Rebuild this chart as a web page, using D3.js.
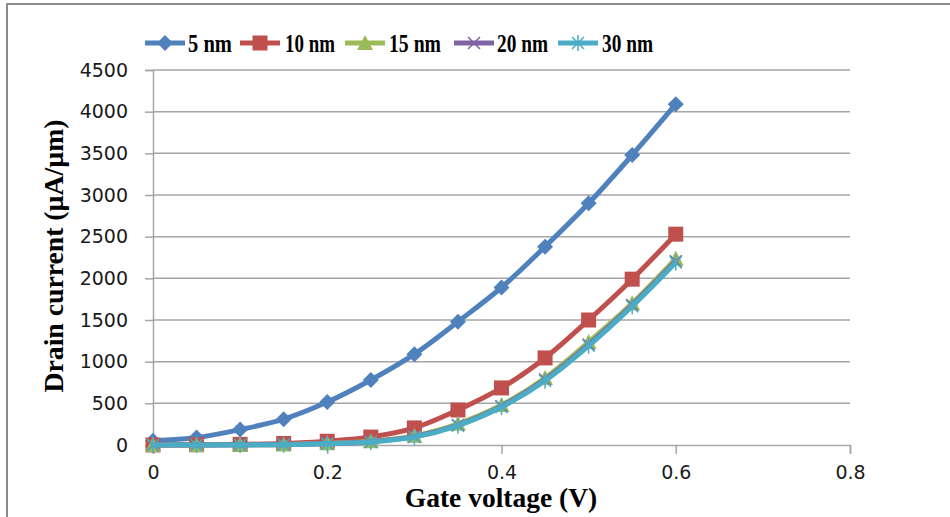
<!DOCTYPE html>
<html>
<head>
<meta charset="utf-8">
<script src="https://cdn.jsdelivr.net/npm/d3@7"></script>
<style>
  html, body { margin: 0; padding: 0; background: #fff; }
  svg { display: block; }
</style>
</head>
<body>
<svg id="chart" width="950" height="517"></svg>
<script>
// Gate voltage sweep (V)
const gateVoltage = [0, 0.05, 0.1, 0.15, 0.2, 0.25, 0.3, 0.35, 0.4, 0.45, 0.5, 0.55, 0.6];

// Drain current (µA/µm) per channel thickness
const series5nm  = [50, 90, 185, 310, 515, 780, 1090, 1480, 1890, 2380, 2900, 3480, 4090];
const series10nm = [0, 3, 8, 18, 45, 95, 205, 420, 685, 1045, 1500, 1990, 2530];
const series15nm = [0, 0, 2, 6, 20, 45, 110, 255, 480, 805, 1235, 1700, 2235];
const series20nm = [0, 0, 2, 5, 18, 40, 100, 240, 465, 785, 1205, 1680, 2205];
const series30nm = [0, 0, 1, 4, 15, 36, 95, 232, 455, 772, 1190, 1665, 2190];

const seriesNames = ["5 nm", "10 nm", "15 nm", "20 nm", "30 nm"];
const seriesValues = [series5nm, series10nm, series15nm, series20nm, series30nm];
const seriesColors = ["#4F81BD", "#C0504D", "#9BBB59", "#8064A2", "#4BACC6"];
const seriesMarkers = ["diamond", "square", "triangle", "x", "star"];

const xTicks = [0, 0.2, 0.4, 0.6, 0.8];
const yTicks = [0, 500, 1000, 1500, 2000, 2500, 3000, 3500, 4000, 4500];

const svg = d3.select("#chart");

// outer chart frame
svg.append("rect")
  .attr("x", 7).attr("y", 4).attr("width", 980).attr("height", 560)
  .attr("fill", "none").attr("stroke", "#8c8c8c").attr("stroke-width", 2);

const x = d3.scaleLinear().domain([0, 0.8]).range([153, 850]);
const y = d3.scaleLinear().domain([0, 4500]).range([445, 70]);

const gridColor = "#a6a6a6";
const tickFont = "'DejaVu Sans', sans-serif";
const titleFont = "'Liberation Serif', 'Times New Roman', serif";

// horizontal gridlines
svg.append("g").selectAll("line")
  .data(yTicks.filter(d => d > 0))
  .join("line")
  .attr("x1", x(0)).attr("x2", x(0.8))
  .attr("y1", d => y(d)).attr("y2", d => y(d))
  .attr("stroke", gridColor).attr("stroke-width", 1.5);

// y axis
const yAxis = svg.append("g")
  .attr("transform", `translate(${x(0)},0)`)
  .call(d3.axisLeft(y).tickValues(yTicks).tickSize(8).tickPadding(17).tickFormat(d3.format("d")));
yAxis.select(".domain").attr("stroke", gridColor).attr("stroke-width", 1.5);
yAxis.selectAll(".tick line").attr("stroke", gridColor).attr("stroke-width", 1.5);
yAxis.selectAll("text").attr("font-family", tickFont).attr("font-size", 19).attr("fill", "#1a1a1a");

// x axis
const xAxis = svg.append("g")
  .attr("transform", `translate(0,${y(0)})`)
  .call(d3.axisBottom(x).tickValues(xTicks).tickSize(9).tickPadding(12)
    .tickFormat(d => d === 0 ? "0" : d3.format(".1f")(d)));
xAxis.select(".domain").attr("stroke", gridColor).attr("stroke-width", 1.5);
xAxis.selectAll(".tick line").attr("stroke", gridColor).attr("stroke-width", 1.5);
xAxis.selectAll("text").attr("font-family", tickFont).attr("font-size", 19).attr("fill", "#1a1a1a");

// axis titles
svg.append("text")
  .attr("x", 501).attr("y", 507)
  .attr("text-anchor", "middle")
  .attr("font-family", titleFont).attr("font-weight", "bold").attr("font-size", 27.5)
  .attr("fill", "#000")
  .text("Gate voltage (V)");

svg.append("text")
  .attr("transform", "translate(63,256) rotate(-90)")
  .attr("text-anchor", "middle")
  .attr("font-family", titleFont).attr("font-weight", "bold").attr("font-size", 27)
  .attr("textLength", 273).attr("lengthAdjust", "spacingAndGlyphs")
  .attr("fill", "#000")
  .text("Drain current (µA/µm)");

// marker drawing
function drawMarker(g, type, color, cx, cy) {
  const s = 8;
  if (type === "diamond") {
    g.append("path").attr("d", `M${cx},${cy - s}L${cx + s},${cy}L${cx},${cy + s}L${cx - s},${cy}Z`).attr("fill", color);
  } else if (type === "square") {
    g.append("rect").attr("x", cx - 7.5).attr("y", cy - 7.5).attr("width", 15).attr("height", 15).attr("fill", color);
  } else if (type === "triangle") {
    g.append("path").attr("d", `M${cx},${cy - 8}L${cx + 8},${cy + 7}L${cx - 8},${cy + 7}Z`).attr("fill", color);
  } else if (type === "x") {
    g.append("path").attr("d", `M${cx - 6},${cy - 6}L${cx + 6},${cy + 6}M${cx - 6},${cy + 6}L${cx + 6},${cy - 6}`)
      .attr("stroke", color).attr("stroke-width", 1.5);
  } else if (type === "star") {
    g.append("path").attr("d", `M${cx - 6},${cy - 6}L${cx + 6},${cy + 6}M${cx - 6},${cy + 6}L${cx + 6},${cy - 6}M${cx},${cy - 8}L${cx},${cy + 8}`)
      .attr("stroke", color).attr("stroke-width", 1.5);
  }
}

const line = d3.line()
  .x((d, i) => x(gateVoltage[i]))
  .y(d => y(d))
  .curve(d3.curveCatmullRom.alpha(0.5));

seriesValues.forEach((vals, k) => {
  const g = svg.append("g");
  g.append("path")
    .attr("d", line(vals))
    .attr("fill", "none")
    .attr("stroke", seriesColors[k])
    .attr("stroke-width", 5)
    .attr("stroke-linejoin", "round");
  vals.forEach((v, i) => drawMarker(g, seriesMarkers[k], seriesColors[k], x(gateVoltage[i]), y(v)));
});

// legend: line sample start, label start, label width
const legendItems = [
  { lx: 145, tx: 188, tw: 44 },
  { lx: 240, tx: 285, tw: 50 },
  { lx: 345, tx: 389, tw: 52 },
  { lx: 454, tx: 497, tw: 51 },
  { lx: 558, tx: 602, tw: 51 }
];
const legendY = 43;
seriesNames.forEach((name, k) => {
  const g = svg.append("g");
  const p = legendItems[k];
  g.append("line")
    .attr("x1", p.lx).attr("x2", p.lx + 40)
    .attr("y1", legendY).attr("y2", legendY)
    .attr("stroke", seriesColors[k]).attr("stroke-width", 5);
  drawMarker(g, seriesMarkers[k], seriesColors[k], p.lx + 20, legendY);
  g.append("text")
    .attr("x", p.tx).attr("y", legendY + 9)
    .attr("font-family", titleFont).attr("font-weight", "bold").attr("font-size", 25)
    .attr("textLength", p.tw).attr("lengthAdjust", "spacingAndGlyphs")
    .attr("fill", "#000")
    .text(name);
});
</script>
</body>
</html>
